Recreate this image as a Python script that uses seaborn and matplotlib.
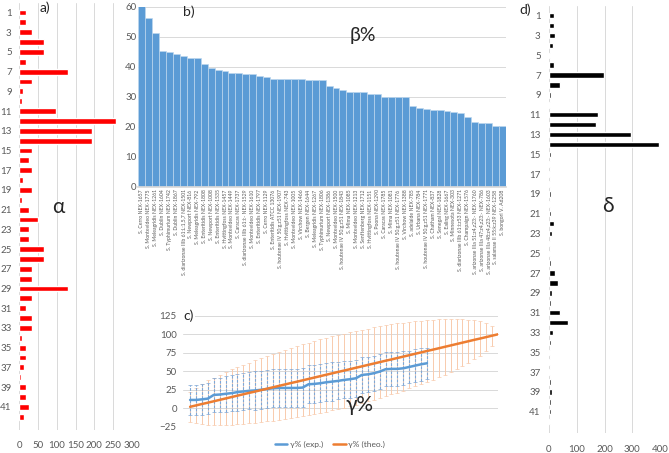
import numpy as np
import pandas as pd
import matplotlib
matplotlib.use('Agg')
import matplotlib.pyplot as plt
import seaborn as sns
from matplotlib.lines import Line2D

# ---- data ----
rows = list(range(1, 43))
alpha_vals = [18, 18, 35, 66, 66, 18, 130, 35, 10, 8,
              98, 259, 194, 194, 35, 27, 35, 10, 35, 8,
              27, 50, 27, 27, 66, 66, 35, 35, 130, 35,
              18, 35, 35, 6, 18, 18, 13, 4, 18, 18,
              27, 13]
delta_vals = [17, 17, 23, 14, 4, 17, 198, 38, 6, 4,
              178, 169, 295, 395, 7, 5, 5, 4, 7, 5,
              7, 18, 10, 4, 4, 6, 20, 32, 10, 6,
              41, 67, 16, 8, 4, 4, 4, 6, 10, 6,
              6, 4]

strains = [
    'S. Cerro NEX-1657', 'S. Montevideo NEX-1775', 'S. Meleagridis NEX-1261',
    'S. Dublin NEX-1604', 'S. Typhimurium NEX-1742', 'S. Dublin NEX-1867',
    'S. diarizonae IIIb 61:L:1,5,7 NEX-1501', 'S. Newport NEX-816',
    'S. Meleagridis NEX-792', 'S. Enteritidis NEX-1808', 'S. Newport NEX-1008',
    'S. Enteritidis NEX-1535', 'S. Hvittingfoss NEX-1457', 'S. Montevideo NEX-1449',
    'S. Caracas NEX-1737', 'S. diarizonae IIIb 61:i:- NEX-1529',
    'S. Montevideo NEX-1610', 'S. Enteritidis NEX-1797', 'S. Cerro NEX-1129',
    'S. Enteritidis ATCC 13076', 'S. houtenae IV 50:g,z51 NEX-1907',
    'S. Hvittingfoss NEX-743', 'S. Montevideo NEX-1005', 'S. Virchow NEX-1466',
    'S. Bergen NEX-1644', 'S. Meleagridis NEX-1267', 'S. Typhimurium NEX-1806',
    'S. Newport NEX-1386', 'S. Montevideo NEX-1500',
    'S. houtenae IV 50:g,z51 NEX-1843', 'S. Mima NEX-1085',
    'S. Montevideo NEX-1213', 'S. Senftenberg NEX-1712',
    'S. Hvittingfoss NEX-1151', 'S. Poona NEX-1290', 'S. Caracas NEX-1785',
    'S. Mima NEX-1081', 'S. houtenae IV 50:g,z51 NEX-1776',
    'S. Virchow NEX-1388', 'S. adelaide NEX-785', 'S. Urbana NEX-784',
    'S. houtenae IV 50:g,z51 NEX-1771', 'S. Chatham NEX-837',
    'S. Senegal NEX-1828', 'S. Ealing NEX-1667', 'S. Minnesota NEX-303',
    'S. diarizonae IIIb 61:i:z53 NEX-1271', 'S. Champaign NEX-1576',
    'S. arizonae IIIa 51:z4,z23:- NEX-1760', 'S. arizonae IIIa 47:z4,z23:- NEX-786',
    'S. arizonae IIIa 48:z4,z23:- NEX-1603', 'S. salamae II 55:k:z39 NEX-1258',
    'S. bongori V. Ad208']
beta_vals = [60.5, 56.3, 51.1, 45.2, 44.8, 44.1, 43.7, 42.8, 42.8, 40.9,
             39.5, 38.8, 38.6, 37.8, 37.8, 37.6, 37.5, 36.8, 36.5, 36.0,
             35.9, 35.9, 35.8, 35.8, 35.7, 35.7, 35.7, 33.7, 33.0, 32.2,
             31.7, 31.7, 31.6, 30.8, 30.8, 29.8, 29.8, 29.8, 29.8, 26.9,
             26.3, 25.8, 25.5, 25.5, 25.1, 24.9, 24.6, 23.1, 21.6, 21.2,
             21.2, 20.3, 20.3]

gamma_exp = [11.2, 11.2, 12, 13, 18, 18.5, 19.5, 20.4, 21.8, 22.7,
             23.6, 24.1, 25, 26, 27, 27.4, 27.4, 27.4, 27.4, 27.9,
             32.4, 32.9, 33.8, 35.1, 36, 37, 38.3, 39.2, 40.5, 45,
             45.8, 47.3, 49.5, 52.7, 53.2, 53.2, 54, 55.8, 57.6, 59.4,
             60.8]
gamma_exp_err = [20, 20, 21, 21, 23, 23, 24, 24, 25, 25,
                 25, 26, 26, 26, 26, 26, 26, 26, 26, 26,
                 26, 26, 26, 26, 26, 25, 25, 25, 25, 24,
                 24, 24, 24, 23, 23, 23, 23, 22, 22, 22,
                 21]
gamma_theo = [1.9, 3.8, 5.7, 7.5, 9.4, 11.3, 13.2, 15.1, 17.0, 18.9,
              20.8, 22.6, 24.5, 26.4, 28.3, 30.2, 32.1, 34.0, 35.8, 37.7,
              39.6, 41.5, 43.4, 45.3, 47.2, 49.1, 50.9, 52.8, 54.7, 56.6,
              58.5, 60.4, 62.3, 64.2, 66.0, 67.9, 69.8, 71.7, 73.6, 75.5,
              77.4, 79.2, 81.1, 83.0, 84.9, 86.8, 88.7, 90.6, 92.5, 94.3,
              96.2, 98.1, 100.0]
gamma_theo_err = [20, 24, 27, 30, 32, 34, 36, 37.5, 39, 40,
                  41, 42, 43, 44, 45, 46, 46.7, 47.4, 48, 48.5,
                  48.9, 49.3, 49.6, 49.8, 49.9, 50, 50, 49.9, 49.8, 49.6,
                  49.3, 48.9, 48.5, 48, 47.4, 46.7, 45.9, 45, 44.1, 43,
                  41.8, 40.6, 39.1, 37.6, 35.8, 33.9, 31.7, 29.2, 26.4, 23.1,
                  19.1, 13.6, 0]

W, H = 669, 453
GRID = '#D9D9D9'
TXT = '#595959'
BLUE = '#5B9BD5'
ORANGE = '#ED7D31'


def rect(x0, y0, x1, y1):
    """像素坐标 -> figure坐标"""
    return [x0 / W, 1 - y1 / H, (x1 - x0) / W, (y1 - y0) / H]


def clean_axes(ax, keep_bottom=False):
    for sp in ax.spines.values():
        sp.set_visible(False)
    if keep_bottom:
        ax.spines['bottom'].set_visible(True)
        ax.spines['bottom'].set_color(GRID)
    ax.set_xlabel('')
    ax.set_ylabel('')
    ax.set_axisbelow(True)


sns.set_theme(style='white')
plt.rcParams['font.family'] = ['Lato', 'DejaVu Sans']

fig = plt.figure(figsize=(W / 100, H / 100), dpi=100)

# a) alpha horizontal bars
ax_a = fig.add_axes(rect(19.3, 2.6, 131.7, 430))
df_a = pd.DataFrame({'row': [str(r) for r in rows], 'val': alpha_vals})
sns.barplot(data=df_a, x='val', y='row', orient='h', color='#FF0000',
            saturation=1, width=0.6, ax=ax_a)
ax_a.set_xlim(0, 300)
ax_a.set_ylim(42.35, -1)
ax_a.set_xticks(range(0, 301, 50))
ax_a.set_yticks(range(0, 42, 2))
ax_a.set_yticklabels([str(r) for r in rows[::2]])
ax_a.xaxis.grid(True, color=GRID, lw=0.7)
clean_axes(ax_a)
ax_a.tick_params(length=0, labelsize=7, labelcolor=TXT)
ax_a.tick_params(axis='y', pad=5.5)
ax_a.tick_params(axis='x', pad=8)

# d) delta horizontal bars
ax_d = fig.add_axes(rect(549, 5.8, 660, 433))
df_d = pd.DataFrame({'row': [str(r) for r in rows], 'val': delta_vals})
sns.barplot(data=df_d, x='val', y='row', orient='h', color='black',
            saturation=1, width=0.55, ax=ax_d)
ax_d.set_xlim(0, 400)
ax_d.set_ylim(42.15, -1)
ax_d.set_xticks(range(0, 401, 100))
ax_d.set_yticks(range(0, 42, 2))
ax_d.set_yticklabels([str(r) for r in rows[::2]])
ax_d.xaxis.grid(True, color=GRID, lw=0.7)
clean_axes(ax_d)
ax_d.tick_params(length=0, labelsize=7, labelcolor=TXT)
ax_d.tick_params(axis='y', pad=6)
ax_d.tick_params(axis='x', pad=9)

# b) beta bars
ax_b = fig.add_axes(rect(138.3, 6.7, 506, 186.7))
df_b = pd.DataFrame({'strain': strains, 'beta': beta_vals})
sns.barplot(data=df_b, x='strain', y='beta', color=BLUE, saturation=1,
            width=1, edgecolor='#BDD7EE', linewidth=0.5, ax=ax_b)
ax_b.set_xlim(-0.5, len(strains) - 0.5)
ax_b.set_ylim(0, 60)
ax_b.set_yticks(range(0, 61, 10))
ax_b.yaxis.grid(True, color=GRID, lw=0.7)
clean_axes(ax_b, keep_bottom=True)
ax_b.tick_params(length=0, labelcolor=TXT)
ax_b.tick_params(axis='y', labelsize=7, pad=1.5)
ax_b.tick_params(axis='x', labelsize=3.7, pad=2)
plt.setp(ax_b.get_xticklabels(), rotation=90, ha='center', va='top')

# c) gamma lines with error bars
ax_c = fig.add_axes(rect(183, 315.8, 498, 426.7))
x_theo = np.arange(1, len(gamma_theo) + 1)
x_exp = np.arange(1, len(gamma_exp) + 1)
ax_c.errorbar(x_theo, gamma_theo, yerr=gamma_theo_err, fmt='none',
              ecolor='#F8CBAD', elinewidth=0.7, capsize=1.2,
              capthick=0.5, zorder=1)
eb_e = ax_c.errorbar(x_exp, gamma_exp, yerr=gamma_exp_err, fmt='none',
                     ecolor='#7FA7D6', elinewidth=0.8, capsize=1.2,
                     capthick=0.5, zorder=2)
eb_e[2][0].set_linestyle((0, (2.5, 1.2)))
sns.lineplot(x=x_exp, y=gamma_exp, color=BLUE, lw=1.8, ax=ax_c, zorder=3)
sns.lineplot(x=x_theo, y=gamma_theo, color=ORANGE, lw=1.8, ax=ax_c, zorder=4)
ax_c.set_xlim(-0.2, 53)
ax_c.set_ylim(-25, 125)
ax_c.set_yticks(range(-25, 126, 25))
ax_c.set_xticks([])
ax_c.yaxis.grid(True, color=GRID, lw=0.7)
clean_axes(ax_c)
ax_c.tick_params(length=0, labelsize=7, labelcolor=TXT, pad=4.5)

handles = [Line2D([], [], color=BLUE, lw=1.8), Line2D([], [], color=ORANGE, lw=1.8)]
fig.legend(handles, ['γ% (exp.)', 'γ% (theo.)'], loc='center',
           bbox_to_anchor=(330 / W, 1 - 444 / H), ncol=2, frameon=False,
           fontsize=6, handlelength=1.5, handletextpad=0.3,
           columnspacing=1.2, labelcolor=TXT)


# 面板标签和希腊字母
def ftext(x, y, s, size, **kw):
    fig.text(x / W, 1 - y / H, s, ha='center', va='center', fontsize=size, **kw)


ftext(45, 8, 'a)', 10)
ftext(189, 12, 'b)', 10)
ftext(189, 316, 'c)', 10, bbox=dict(fc='white', ec='none', pad=0.5))
ftext(525, 10, 'd)', 10)
ftext(58, 207, 'α', 15)
ftext(363, 35, 'β%', 14)
ftext(360, 405, 'γ%', 15)
ftext(608, 206, 'δ', 15)

fig.savefig('out.png', dpi=100)
plt.close(fig)
